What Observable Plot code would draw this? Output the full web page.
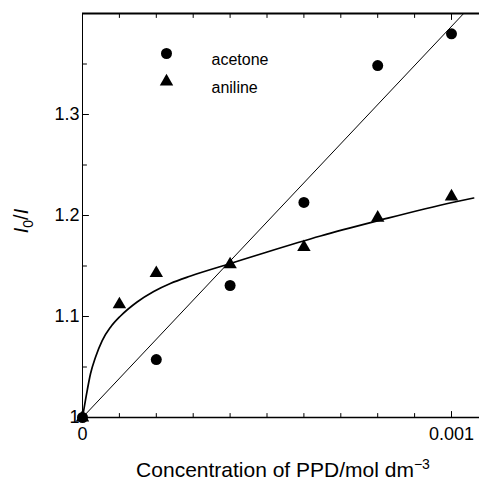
<!DOCTYPE html>
<html>
<head>
<meta charset="utf-8">
<script src="https://cdn.jsdelivr.net/npm/d3@7"></script>
<script src="https://cdn.jsdelivr.net/npm/@observablehq/plot@0.6"></script>
<style>
  html, body { margin: 0; padding: 0; background: #fff; }
  svg { display: block; }
</style>
</head>
<body>
<div id="chart"></div>
<script>
// ---- data ----
const acetoneX = [0, 0.0002, 0.0004, 0.0006, 0.0008, 0.001];
const acetoneY = [1.0, 1.0574, 1.1307, 1.2129, 1.3485, 1.3799];
const anilineX = [0, 0.0001, 0.0002, 0.0004, 0.0006, 0.0008, 0.001];
const anilineY = [1.0, 1.1119, 1.1429, 1.1515, 1.1686, 1.1977, 1.2188];
// fitted straight line (acetone), endpoints
const acetoneFitX = [0, 0.001033];
const acetoneFitY = [1.0, 1.4];
// fitted curve (aniline)
const anilineFitX = [0, 0.0000127, 0.0000217, 0.0000352, 0.0000534, 0.0000759, 0.000103, 0.000148, 0.000193, 0.000238, 0.000293, 0.000401, 0.0005005, 0.000645, 0.0007986, 0.001002, 0.00106];
const anilineFitY = [1.0, 1.0267, 1.0433, 1.0597, 1.0762, 1.0894, 1.1005, 1.1144, 1.1248, 1.1327, 1.1401, 1.1525, 1.1639, 1.1797, 1.1946, 1.2129, 1.2173];
// ticks
const xMajorTicks = [0, 0.001];
const xMinorTicks = [0.0001, 0.0002, 0.0003, 0.0004, 0.0005, 0.0006, 0.0007, 0.0008, 0.0009];
const xTickLabels = ["0", "0.001"];
const yMajorTicks = [1.0, 1.1, 1.2, 1.3];
const yMinorTicks = [1.05, 1.15, 1.25, 1.35];
const yTickLabels = ["1", "1.1", "1.2", "1.3"];
const seriesNames = ["acetone", "aniline"];

const acetone = acetoneX.map((x, i) => ({x, y: acetoneY[i]}));
const aniline = anilineX.map((x, i) => ({x, y: anilineY[i]}));
const acetoneFit = acetoneFitX.map((x, i) => ({x, y: acetoneFitY[i]}));
const anilineFit = anilineFitX.map((x, i) => ({x, y: anilineFitY[i]}));

const tickShape = {draw(ctx, l) { ctx.moveTo(0, 0); ctx.lineTo(0, -l); }};
const font = "Liberation Sans, Arial, Helvetica, sans-serif";

const svg = Plot.plot({
  width: 479,
  height: 483,
  marginLeft: 82,
  marginTop: 13,
  marginBottom: 66,
  marginRight: 0,
  style: {fontFamily: font, color: "#000", background: "#fff"},
  x: {domain: [0, 0.0011], range: [82, 487.9]},
  y: {domain: [1, 1.4], range: [417, 13]},
  marks: [
    // frame lines
    Plot.ruleX([0], {y1: 1, y2: 1.4, stroke: "#000", strokeWidth: 1}),
    Plot.ruleY([1], {stroke: "#000", strokeWidth: 1.3}),
    Plot.ruleY([1.4], {stroke: "#000", strokeWidth: 2}),
    // inward ticks
    Plot.vector(xMinorTicks, {x: d => d, y: 1, length: 4, rotate: 0, anchor: "start", shape: tickShape, stroke: "#000", strokeWidth: 1}),
    Plot.vector(xMajorTicks, {x: d => d, y: 1, length: 6, rotate: 0, anchor: "start", shape: tickShape, stroke: "#000", strokeWidth: 1}),
    Plot.vector(xMinorTicks, {x: d => d, y: 1.4, length: 4, rotate: 180, anchor: "start", shape: tickShape, stroke: "#000", strokeWidth: 1}),
    Plot.vector(xMajorTicks, {x: d => d, y: 1.4, length: 6, rotate: 180, anchor: "start", shape: tickShape, stroke: "#000", strokeWidth: 1}),
    Plot.vector(yMinorTicks, {x: 0, y: d => d, length: 4, rotate: 90, anchor: "start", shape: tickShape, stroke: "#000", strokeWidth: 1}),
    Plot.vector(yMajorTicks, {x: 0, y: d => d, length: 6, rotate: 90, anchor: "start", shape: tickShape, stroke: "#000", strokeWidth: 1}),
    // tick labels
    Plot.axisX({anchor: "bottom", ticks: xMajorTicks, tickFormat: (d, i) => xTickLabels[i], tickSize: 0, tickPadding: 10, fontSize: 18, label: null}),
    Plot.axisY({anchor: "left", ticks: yMajorTicks, tickFormat: (d, i) => yTickLabels[i], tickSize: 0, tickPadding: 3, fontSize: 18, label: null}),
    // fits
    Plot.line(acetoneFit, {x: "x", y: "y", stroke: "#000", strokeWidth: 1}),
    Plot.line(anilineFit, {x: "x", y: "y", stroke: "#000", strokeWidth: 1.7, curve: "monotone-x"}),
    // data
    Plot.dot(acetone, {x: "x", y: "y", symbol: "circle", r: 5.5, fill: "#000", stroke: "none"}),
    Plot.dot(aniline, {x: "x", y: "y", symbol: "triangle", r: 5, fill: "#000", stroke: "none"}),
    // legend
    Plot.dot([seriesNames[0]], {frameAnchor: "top-left", dx: 84, dy: 40, symbol: "circle", r: 5.5, fill: "#000"}),
    Plot.dot([seriesNames[1]], {frameAnchor: "top-left", dx: 84, dy: 68, symbol: "triangle", r: 5, fill: "#000"}),
    Plot.text([seriesNames[0]], {frameAnchor: "top-left", dx: 129, dy: 40, text: d => d, textAnchor: "start", fontSize: 16, fill: "#000"}),
    Plot.text([seriesNames[1]], {frameAnchor: "top-left", dx: 129, dy: 68, text: d => d, textAnchor: "start", fontSize: 16, fill: "#000"})
  ]
});

const s = d3.select(svg);
// y-axis label: I0/I
const yl = s.append("text")
  .attr("transform", "translate(28,221) rotate(-90)")
  .attr("text-anchor", "middle")
  .attr("font-family", font)
  .attr("font-size", 20)
  .attr("fill", "#000");
yl.append("tspan").attr("font-style", "italic").text("I");
yl.append("tspan").attr("font-size", 14).attr("dy", 5).text("0");
yl.append("tspan").attr("dy", -5).text("/");
yl.append("tspan").attr("font-style", "italic").text("I");
// x-axis label
const xl = s.append("text")
  .attr("x", 283).attr("y", 477)
  .attr("text-anchor", "middle")
  .attr("font-family", font)
  .attr("font-size", 21)
  .attr("fill", "#000");
xl.append("tspan").text("Concentration of PPD/mol dm");
xl.append("tspan").attr("font-size", 14).attr("dy", -8).text("\u22123");

document.getElementById("chart").appendChild(svg);
</script>
</body>
</html>
